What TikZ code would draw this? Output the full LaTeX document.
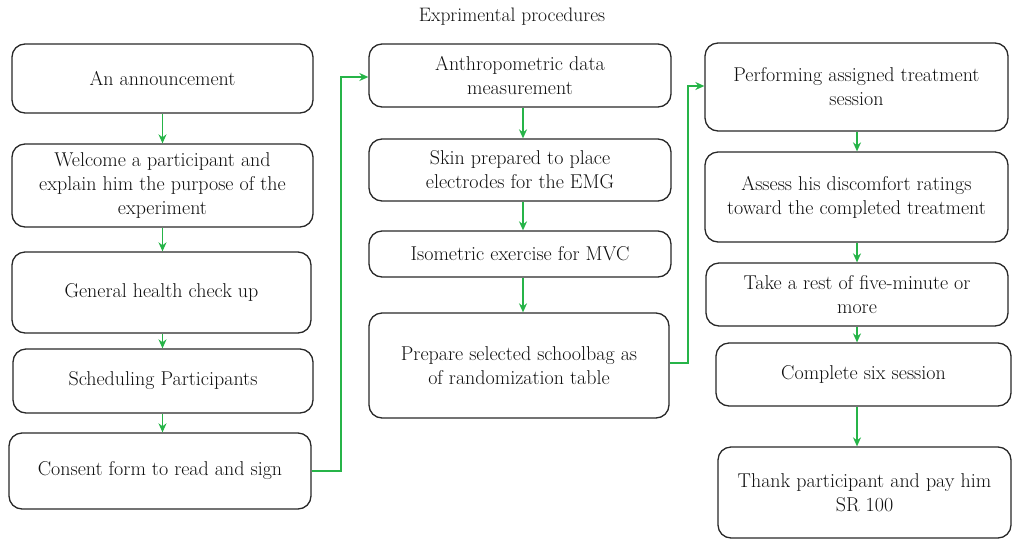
\documentclass[tikz,border=0pt]{standalone}
\usetikzlibrary{arrows.meta}
\definecolor{flowgreen}{RGB}{38,180,72}
\definecolor{boxline}{RGB}{40,40,40}
\definecolor{txt}{RGB}{15,15,15}
\begin{document}
\begin{tikzpicture}[x=1pt,y=-1pt,
  stepbox/.style={draw=boxline,line width=1.3pt,rounded corners=13pt,align=center,
    text=txt,inner sep=0pt,font=\fontsize{20}{24}\selectfont},
  flow/.style={draw=flowgreen,line width=1.3pt,-{Stealth[length=9pt,width=8pt]}},
  link/.style={draw=flowgreen,line width=1.3pt}]
\useasboundingbox (0,0) rectangle (1012,539);
\node[text=txt,font=\fontsize{19.5}{23}\selectfont] (title) at (512,17) {Exprimental procedures};
% column 1
\node[stepbox,minimum width=301pt,minimum height=69pt] (b1) at (162.5,78.5) {An announcement};
\node[stepbox,minimum width=301pt,minimum height=83pt] (b2) at (162.5,185.5) {Welcome a participant and\\explain him the purpose of the\\experiment};
\node[stepbox,minimum width=299pt,minimum height=81pt] (b3) at (161.5,292.5) {General health check up};
\node[stepbox,minimum width=300pt,minimum height=64pt] (b4) at (163,381) {Scheduling Participants};
\node[stepbox,minimum width=302pt,minimum height=76pt] (b5) at (160,471) {Consent form to read and sign};
% column 2
\node[stepbox,minimum width=302pt,minimum height=63pt] (b6) at (520,75.5) {Anthropometric data\\measurement};
\node[stepbox,minimum width=302pt,minimum height=62pt] (b7) at (520,170) {Skin prepared to place\\electrodes for the EMG};
\node[stepbox,minimum width=302pt,minimum height=46pt] (b8) at (520,254) {Isometric exercise for MVC};
\node[stepbox,minimum width=300pt,minimum height=105pt] (b9) at (519,365.5) {Prepare selected schoolbag as\\of randomization table};
% column 3
\node[stepbox,minimum width=303pt,minimum height=88pt] (b10) at (856.5,87) {Performing assigned treatment\\session};
\node[stepbox,minimum width=303pt,minimum height=90pt] (b11) at (856.5,197) {Assess his discomfort ratings\\toward the completed treatment};
\node[stepbox,minimum width=302pt,minimum height=63pt] (b12) at (857,294.5) {Take a rest of five-minute or\\more};
\node[stepbox,minimum width=295pt,minimum height=63pt] (b13) at (863.5,374.5) {Complete six session};
\node[stepbox,minimum width=293pt,minimum height=91pt] (b14) at (864.5,492.5) {Thank participant and pay him\\SR 100};
% coordinates for elbow connectors
\coordinate (c1a) at (341,471);
\coordinate (c1b) at (341,77);
\coordinate (c2a) at (688,363);
\coordinate (c2b) at (688,86);
% arrows column 1
\draw[flow] (b1.south) -- (b2.north);
\draw[flow] (b2.south) -- (b3.north -| b2.south);
\draw[flow] (b3.south -| b2.south) -- (b4.north -| b2.south);
\draw[flow] (b4.south -| b2.south) -- (b5.north -| b2.south);
\draw[flow] (b5.east) -- (c1a) -- (c1b) -- (b6.west |- c1b);
% column 2
\draw[flow] (b6.south -| 523,0) -- (b7.north -| 523,0);
\draw[flow] (b7.south -| 523,0) -- (b8.north -| 523,0);
\draw[flow] (b8.south -| 523,0) -- (b9.north -| 523,0);
\draw[flow] (b9.east |- c2a) -- (c2a) -- (c2b) -- (b10.west |- c2b);
% column 3
\draw[flow] (b10.south -| 857,0) -- (b11.north -| 857,0);
\draw[flow] (b11.south -| 857,0) -- (b12.north -| 857,0);
\draw[flow] (b12.south -| 857,0) -- (b13.north -| 857,0);
\draw[flow] (b13.south -| 857,0) -- (b14.north -| 857,0);
\end{tikzpicture}
\end{document}
